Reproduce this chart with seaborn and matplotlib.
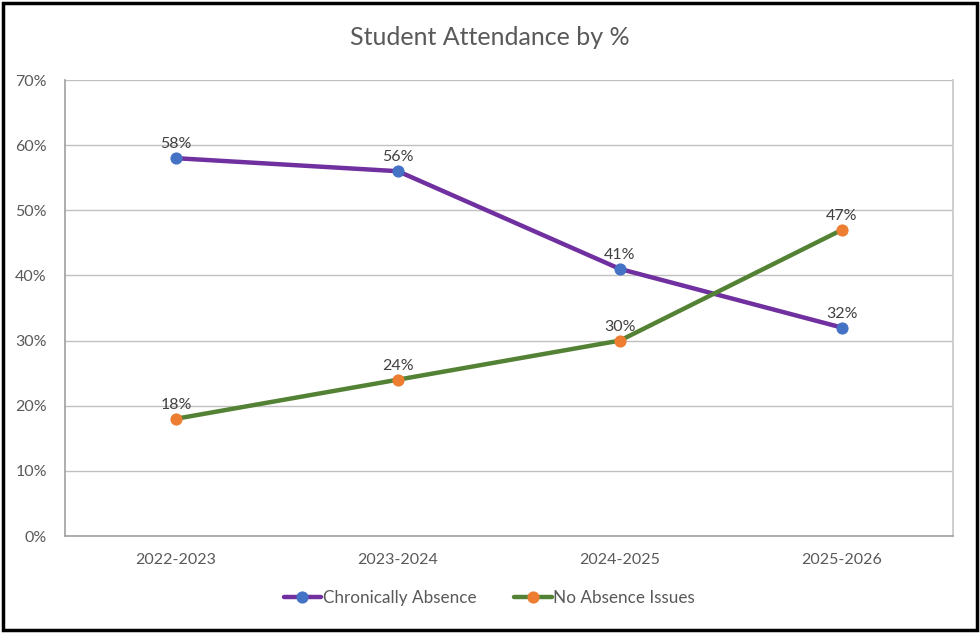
import pandas as pd
import matplotlib.pyplot as plt
import seaborn as sns
from matplotlib.patches import Rectangle

years = ['2022-2023', '2023-2024', '2024-2025', '2025-2026']
chronic = [58, 56, 41, 32]
no_issues = [18, 24, 30, 47]
yticks = [0, 10, 20, 30, 40, 50, 60, 70]

sns.set_theme(style='white')
plt.rcParams['font.family'] = ['Lato', 'DejaVu Sans']

df = pd.DataFrame({'year': years, 'chronic': chronic, 'none': no_issues})

fig = plt.figure(figsize=(9.8, 6.33), dpi=100)
ax = fig.add_axes([0.0663, 0.1532, 0.906, 0.7204])

series = [
    ('chronic', 'Chronically Absence', '#7030A0', '#4472C4'),
    ('none', 'No Absence Issues', '#548235', '#ED7D31'),
]
for col, name, lc, mc in series:
    sns.lineplot(data=df, x='year', y=col, ax=ax, color=lc, linewidth=3.2,
                 marker='o', markersize=8, markerfacecolor=mc,
                 markeredgecolor=mc, label=name, sort=False)
    for i, v in enumerate(df[col]):
        ax.annotate(f'{v}%', (i, v), xytext=(0, 5), textcoords='offset points',
                    ha='center', va='bottom', fontsize=11.5, color='#404040')

ax.set_xlim(-0.5, len(years) - 0.5)
ax.set_ylim(0, 70)
ax.set_yticks(yticks)
ax.set_yticklabels([f'{t}%' for t in yticks])
ax.yaxis.grid(True, color='#C0C0C0', linewidth=1)
ax.set_axisbelow(True)
ax.set_xlabel('')
ax.set_ylabel('')
ax.tick_params(axis='x', length=0, labelsize=11.5, colors='#595959', pad=12)
ax.tick_params(axis='y', length=0, labelsize=11.5, colors='#595959', pad=13)
ax.spines['top'].set_visible(False)
ax.spines['right'].set_color('#C8C8C8')
for s in ['left', 'bottom']:
    ax.spines[s].set_color('#A0A0A0')
    ax.spines[s].set_linewidth(1.2)

fig.text(0.5, 0.94, 'Student Attendance by %', ha='center', va='center',
         fontsize=18, color='#595959')

ax.legend(loc='center', bbox_to_anchor=(0.478, -0.135), ncol=2, frameon=False,
          fontsize=12.3, handlelength=2.2, handletextpad=0.1,
          columnspacing=2.2, labelcolor='#595959')

fig.patches.append(Rectangle((0.003, 0.004), 0.994, 0.991, transform=fig.transFigure,
                             fill=False, edgecolor='black', linewidth=2.5))

fig.savefig('out.png', dpi=100, facecolor='white')
